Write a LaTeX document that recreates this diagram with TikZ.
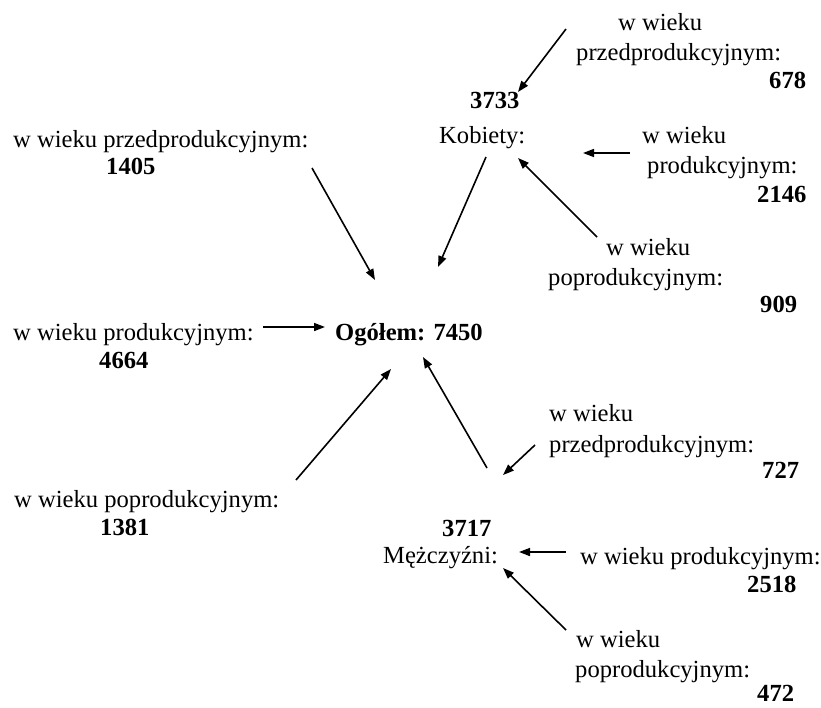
\documentclass[tikz,border=0pt]{standalone}
\usepackage{fontspec}
\setmainfont{Liberation Serif}
\usepackage{xcolor}
\usepackage{tikz}
\usetikzlibrary{arrows.meta}
\definecolor{bg}{HTML}{FFFFFF}
\definecolor{ink}{HTML}{000000}
\tikzset{
  lab/.style={text=ink, anchor=base west, inner sep=0pt, font=\fontsize{24.6}{29}\selectfont},
  labb/.style={lab, font=\fontsize{24.6}{29}\selectfont\bfseries},
  arr/.style={draw=ink, line width=1.6pt, -{Triangle[length=11pt,width=8pt]}},
}

\begin{document}
\begin{tikzpicture}[x=1pt,y=-1pt]
  \fill[bg] (0,0) rectangle (821,707);
  \useasboundingbox (0,0) rectangle (821,707);

  % centre
  \node[labb] (total) at (335,340) {Ogółem: 7450};

  % left side
  \node[lab]  (lpre)  at (13,147) {w wieku przedprodukcyjnym:};
  \node[labb] (lpren) at (106,174) {1405};
  \node[lab]  (lpro)  at (13,340) {w wieku produkcyjnym:};
  \node[labb] (lpron) at (99,368) {4664};
  \node[lab]  (lpop)  at (14,507) {w wieku poprodukcyjnym:};
  \node[labb] (lpopn) at (100,535) {1381};

  % women
  \node[labb] (kn)    at (470,108) {3733};
  \node[lab]  (k)     at (439,143) {Kobiety:};
  \node[lab]  (kpre1) at (618,30) {w wieku};
  \node[lab]  (kpre2) at (576,60) {przedprodukcyjnym:};
  \node[labb] (kpren) at (769,88) {678};
  \node[lab]  (kpro1) at (642,143) {w wieku};
  \node[lab]  (kpro2) at (647,173) {produkcyjnym:};
  \node[labb] (kpron) at (757,202) {2146};
  \node[lab]  (kpop1) at (606,255) {w wieku};
  \node[lab]  (kpop2) at (548,285) {poprodukcyjnym:};
  \node[labb] (kpopn) at (760,312) {909};

  % men
  \node[labb] (mn)    at (442,536) {3717};
  \node[lab]  (m)     at (383,563) {Mężczyźni:};
  \node[lab]  (mpre1) at (549,421) {w wieku};
  \node[lab]  (mpre2) at (549,452) {przedprodukcyjnym:};
  \node[labb] (mpren) at (762,478) {727};
  \node[lab]  (mpro)  at (580,564) {w wieku produkcyjnym:};
  \node[labb] (mpron) at (747,592) {2518};
  \node[lab]  (mpop1) at (576,647) {w wieku};
  \node[lab]  (mpop2) at (575,677) {poprodukcyjnym:};
  \node[labb] (mpopn) at (757,701) {472};

  % arrow ends
  \coordinate (a1s) at (312,168); \coordinate (a1e) at (375,280);
  \coordinate (a2s) at (263,327); \coordinate (a2e) at (325,327);
  \coordinate (a3s) at (296,480); \coordinate (a3e) at (391,369);
  \coordinate (a4s) at (566,29);  \coordinate (a4e) at (518,92);
  \coordinate (a5s) at (630,153); \coordinate (a5e) at (583,153);
  \coordinate (a6s) at (486,157); \coordinate (a6e) at (438,267);
  \coordinate (a7s) at (597,237); \coordinate (a7e) at (518,158);
  \coordinate (a8s) at (487,468); \coordinate (a8e) at (423,357);
  \coordinate (a9s) at (535,445); \coordinate (a9e) at (503,475);
  \coordinate (a10s) at (566,552); \coordinate (a10e) at (519,552);
  \coordinate (a11s) at (566,630); \coordinate (a11e) at (503,568);

  \foreach \i in {1,...,11}
    \draw[arr] (a\i s) -- (a\i e);
\end{tikzpicture}
\end{document}
